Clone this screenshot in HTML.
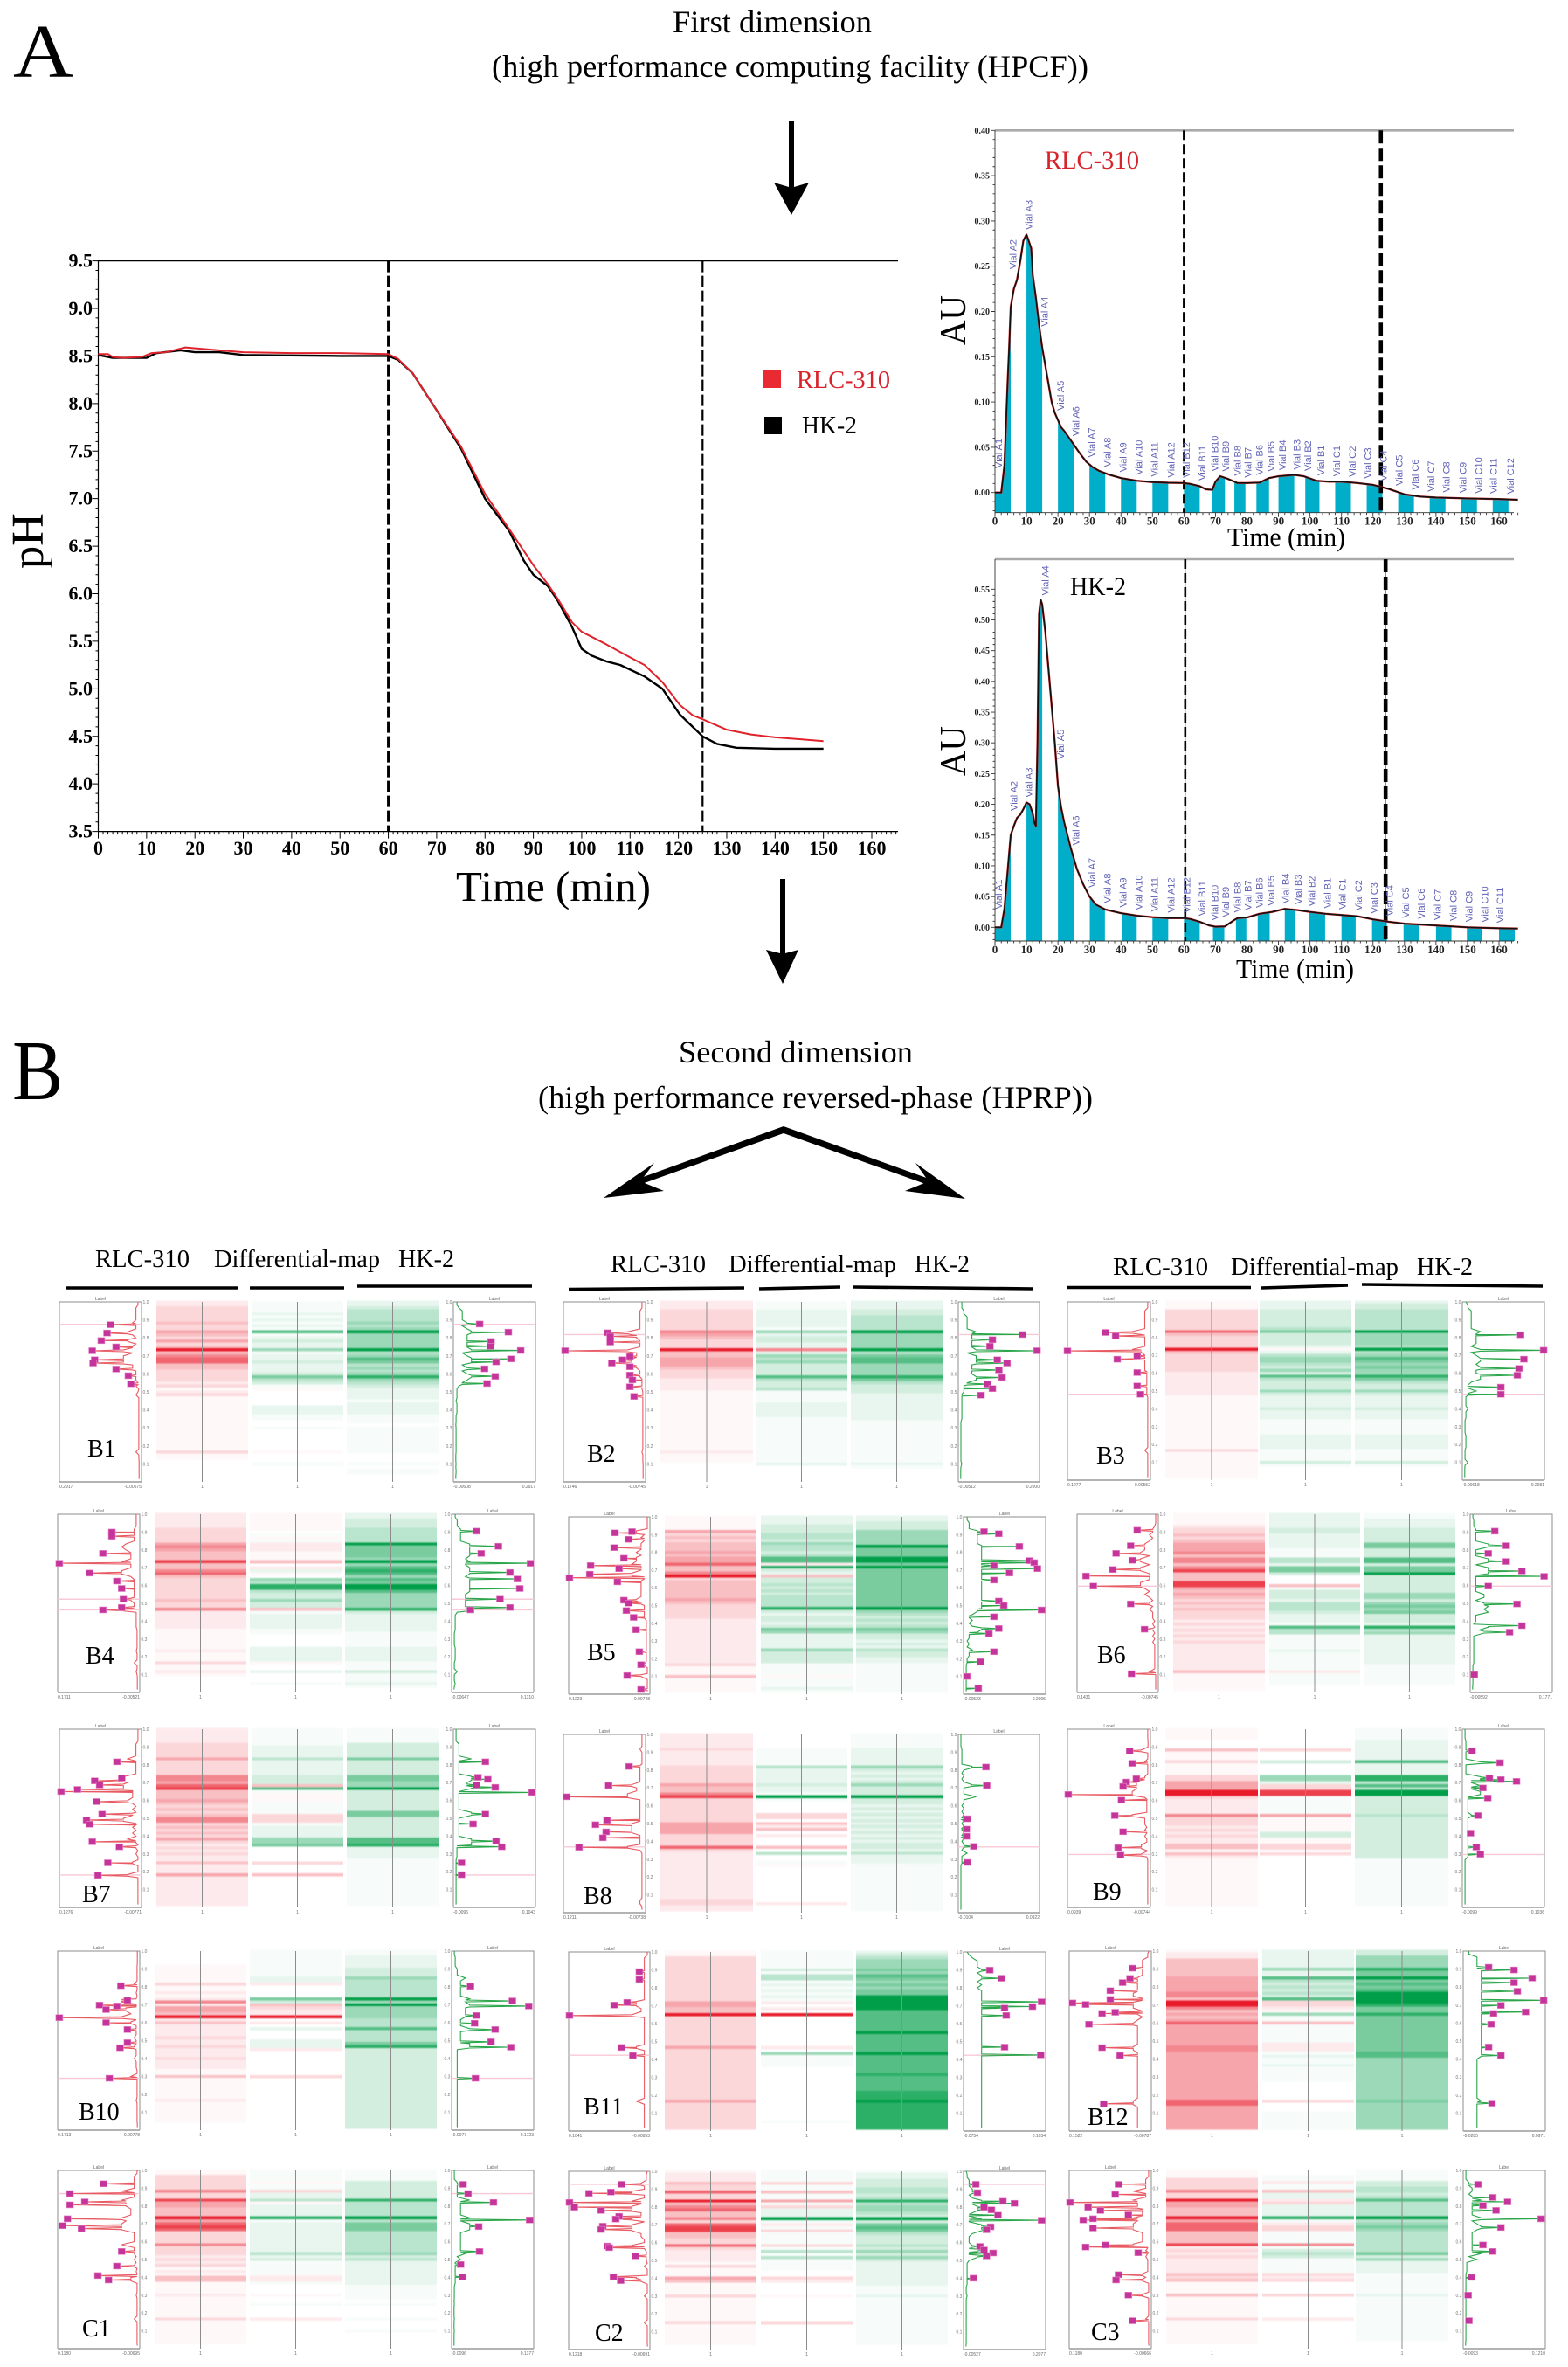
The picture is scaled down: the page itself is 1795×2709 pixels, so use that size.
<!DOCTYPE html>
<html lang="en">
<head>
<meta charset="utf-8">
<title>Two-dimensional chromatography comparison of RLC-310 and HK-2</title>
<style>
html,body{margin:0;padding:0;background:#fff;}
svg{display:block;font-family:"Liberation Serif",serif;}
</style>
</head>
<body>
<svg id="figure" width="1795" height="2709" viewBox="0 0 1795 2709">
<defs>
<filter id="rowSoft" x="-2%" y="-5%" width="104%" height="110%" color-interpolation-filters="sRGB"><feGaussianBlur stdDeviation="0 0.8"/></filter>
</defs>
<rect width="1795" height="2709" fill="#fff"/>
<text x="15" y="88" font-size="87" textLength="69" lengthAdjust="spacingAndGlyphs">A</text>
<text x="770" y="37" font-size="36" textLength="228" lengthAdjust="spacingAndGlyphs">First dimension</text>
<text x="563" y="88" font-size="36" textLength="683" lengthAdjust="spacingAndGlyphs">(high performance computing facility (HPCF))</text>
<text x="14" y="1258" font-size="97" textLength="58" lengthAdjust="spacingAndGlyphs">B</text>
<text x="777" y="1216" font-size="36" textLength="268" lengthAdjust="spacingAndGlyphs">Second dimension</text>
<text x="616" y="1268" font-size="36" textLength="635" lengthAdjust="spacingAndGlyphs">(high performance reversed-phase (HPRP))</text>

<g fill="#000" stroke="none">
<path d="M903 139h6v75l17 -5l-20 37l-20 -37l17 5z"/>
<path d="M893 1006h6v85l15 -4l-18 39l-19 -39l16 4z"/>
<path d="M897 1289L1066 1350L1062 1356L897 1297L732 1356L728 1350z"/>
<path d="M691 1371L749 1331L733 1352L760 1363z"/>
<path d="M1105 1372L1048 1331L1063 1352L1036 1363z"/>
</g>

<g>
<rect x="874" y="424" width="20" height="20" fill="#ea2a33"/>
<text x="912" y="444" font-size="28" fill="#d9232b" textLength="107" lengthAdjust="spacingAndGlyphs">RLC-310</text>
<rect x="875" y="477" width="20" height="20" fill="#000"/>
<text x="918" y="496" font-size="28" textLength="63" lengthAdjust="spacingAndGlyphs">HK-2</text>
</g>
<text x="522" y="1031" font-size="49" textLength="223" lengthAdjust="spacingAndGlyphs">Time (min)</text>
<text transform="translate(49,651) rotate(-90)" font-size="52" textLength="64" lengthAdjust="spacingAndGlyphs">pH</text>

<text x="1196" y="193" font-size="30" fill="#d6242a" textLength="108" lengthAdjust="spacingAndGlyphs">RLC-310</text>
<text transform="translate(1105,395) rotate(-90)" font-size="42" textLength="57" lengthAdjust="spacingAndGlyphs">AU</text>
<text x="1405" y="625" font-size="31" textLength="135" lengthAdjust="spacingAndGlyphs">Time (min)</text>
<text x="1225" y="681" font-size="30" textLength="64" lengthAdjust="spacingAndGlyphs">HK-2</text>
<text transform="translate(1105,888) rotate(-90)" font-size="42" textLength="57" lengthAdjust="spacingAndGlyphs">AU</text>
<text x="1415" y="1119" font-size="31" textLength="135" lengthAdjust="spacingAndGlyphs">Time (min)</text>

<g font-size="28">
<text x="109" y="1450" textLength="108" lengthAdjust="spacingAndGlyphs">RLC-310</text>
<text x="245" y="1450" textLength="190" lengthAdjust="spacingAndGlyphs">Differential-map</text>
<text x="456" y="1450" textLength="64" lengthAdjust="spacingAndGlyphs">HK-2</text>
<path d="M76 1474H272M286 1474H394M409 1472H609" stroke="#000" stroke-width="3.6" fill="none"/>
</g>
<g font-size="28">
<text x="699" y="1456" textLength="109" lengthAdjust="spacingAndGlyphs">RLC-310</text>
<text x="834" y="1456" textLength="192" lengthAdjust="spacingAndGlyphs">Differential-map</text>
<text x="1047" y="1456" textLength="63" lengthAdjust="spacingAndGlyphs">HK-2</text>
<path d="M651 1475.5L852 1474M869 1475L962 1473M977 1473L1183 1475" stroke="#000" stroke-width="3.6" fill="none"/>
</g>
<g font-size="28">
<text x="1274" y="1459" textLength="109" lengthAdjust="spacingAndGlyphs">RLC-310</text>
<text x="1409" y="1459" textLength="192" lengthAdjust="spacingAndGlyphs">Differential-map</text>
<text x="1622" y="1459" textLength="64" lengthAdjust="spacingAndGlyphs">HK-2</text>
<path d="M1222 1473.5H1432M1444 1474L1543 1471M1559 1470L1766 1472" stroke="#000" stroke-width="3.6" fill="none"/>
</g>
</svg>

<script>
// ---------- pH chart data ----------
const phXTicks = [0,10,20,30,40,50,60,70,80,90,100,110,120,130,140,150,160];
const phYTicks = [3.5,4,4.5,5,5.5,6,6.5,7,7.5,8,8.5,9,9.5];
const phCuts = [60,125];
const phTimeRlc = [0,2,3,5,9,11,14,18,25,30,40,50,60,62,65,70,75,80,85,90,93,95,98,100,105,110,113,116.7,120.3,123,125,130,135,140,145,150];
const phRlc = [8.52,8.52,8.49,8.48,8.49,8.53,8.54,8.59,8.56,8.54,8.53,8.53,8.52,8.47,8.32,7.93,7.55,7.05,6.68,6.3,6.1,5.95,5.7,5.6,5.47,5.33,5.25,5.07,4.83,4.72,4.68,4.57,4.52,4.49,4.47,4.45];
const phTimeHk = [0,3,10,12,17,20,25,30,50,60,62,65,70,75,80,85,88,90,93,95,98,100,102,105,108,113,116.7,120.3,125,128,132,140,150];
const phHk = [8.51,8.48,8.48,8.53,8.56,8.54,8.54,8.51,8.5,8.5,8.46,8.32,7.93,7.53,7,6.66,6.35,6.2,6.08,5.93,5.65,5.42,5.35,5.29,5.25,5.13,5,4.73,4.5,4.42,4.38,4.37,4.37];

// ---------- AU chart data ----------
const auXTicks = [0,10,20,30,40,50,60,70,80,90,100,110,120,130,140,150,160];
const auTimeRlc = [0,2,3,3.5,4,4.5,5,6,7,8,9,10,11,11.5,12,13,14,15,16,17,18,19,20,21,22,24,25,27,29,31,33,36,40,45,50,55,60,62,65,67,69,70,71.5,74,77,80,84,87,90,95,98,102,106,110,115,120,125,130,135,140,150,160,166];
const auRlc = [0,0,0.03,0.075,0.12,0.16,0.205,0.225,0.235,0.255,0.278,0.285,0.275,0.27,0.24,0.215,0.185,0.16,0.14,0.12,0.1,0.088,0.08,0.072,0.068,0.058,0.053,0.043,0.034,0.028,0.024,0.02,0.016,0.013,0.0115,0.0108,0.0105,0.0095,0.007,0.0035,0.003,0.012,0.018,0.015,0.0105,0.0105,0.011,0.016,0.018,0.0195,0.018,0.013,0.012,0.012,0.0105,0.0085,0.004,-0.002,-0.0045,-0.0055,-0.0065,-0.0072,-0.008];
const auTimeHk = [0,2,3,4,5,6,7,8,9,10,11,12,12.5,13,13.5,14,14.5,15,16,17,18,19,20,21,22,24,26,28,30,32,35,40,45,50,55,60,62,65,68,70,73,76,77,80,84,88,92,96,100,105,110,115,120,125,130,135,140,150,160,166];
const auHk = [0,0,0.03,0.09,0.15,0.165,0.178,0.183,0.192,0.203,0.2,0.185,0.17,0.165,0.3,0.51,0.533,0.525,0.48,0.42,0.36,0.3,0.23,0.195,0.17,0.13,0.095,0.07,0.05,0.037,0.029,0.023,0.019,0.0165,0.015,0.015,0.0135,0.009,0.003,0.001,0.0015,0.012,0.015,0.016,0.022,0.025,0.03,0.028,0.025,0.022,0.02,0.018,0.013,0.009,0.006,0.0045,0.003,0,-0.0015,-0.002];
const rlcFractionStart = [0,10,20,30,40,50,60,69,76,83,90,98.5,108,118,128,138,148,158];
const rlcFractionEnd = [5,15,25,35,45,55,65,73,79.5,87,95,103,113,123,133,143,153,163];
const hkFractionStart = [0,10,20,30.1,40.2,50,60,69.2,76.5,83.4,92,99.8,110,119.7,129.7,140,149.8,160];
const hkFractionEnd = [5,15,25,34.9,45,55,65,72.8,79.8,87.2,95.4,104.8,114.5,124.4,134.6,144.9,154.6,165];
const vialNames = ['A1','A2','A3','A4','A5','A6','A7','A8','A9','A10','A11','A12','B12','B11','B10','B9','B8','B7','B6','B5','B4','B3','B2','B1','C1','C2','C3','C4','C5','C6','C7','C8','C9','C10','C11','C12'];
const rlcVialTimes = [1.2,5.8,10.8,15.8,20.9,25.8,30.8,35.8,40.8,45.8,50.7,56,60.9,65.8,69.9,73.4,77.1,80.4,84,87.7,91.3,95.9,99.4,103.6,108.6,113.5,118.4,123.4,128.4,133.5,138.5,143.4,148.6,153.6,158.4,163.7];
const hkVialTimes = [1.2,6.1,10.8,16.1,21,25.8,30.9,35.8,40.8,45.8,50.7,56,61,65.8,69.9,73.4,77.1,80.4,84,87.7,92.3,96.3,100.6,105.6,110.4,115.5,120.5,125.4,130.5,135.5,140.6,145.6,150.6,155.5,160.4];
const rlcYTicks = ['0.00','0.05','0.10','0.15','0.20','0.25','0.30','0.35','0.40'];
const hkYTicks = ['0.00','0.05','0.10','0.15','0.20','0.25','0.30','0.35','0.40','0.45','0.50','0.55'];

// ---------- Heatmap row intensities (60 rows; missing rows are zero) ----------
const redB1 = [2,2,3,3,3,3,3,4,3,3,5,4,3,5,3,4,9,4,6,7,7,4,4,3,3,3,3,2,3,1,2,3,1,1,1,1,1,1,1,1,1,1,1,1,1,1,1,1,1,1,3,1,1];
const diffB1 = [1,1,1,1,2,1,2,1,2,1,7,1,2,3,2,2,5,1,2,2,3,2,2,2,3,6,4,3,1,-1,0,0,0,0,0,2,2,2,1,1,0,0,1,0,0,0,0,0,0,0,-1,0,0,0,1];
const greenB1 = [2,2,3,4,4,4,4,5,4,5,9,5,5,5,5,5,9,4,5,7,6,4,5,4,5,8,5,4,3,2,2,2,2,1,2,2,2,2,1,1,1,0,1,1,1,1,1,1,1,1,1,0,0,0,1,0,1,1];
const redB2 = [2,2,2,3,3,3,3,3,3,3,6,5,4,3,3,3,9,4,4,5,5,5,4,3,3,3,2,2,2,2,1,1,1,1,1,1,1,1,1,1,1,1,1,1,1,1,1,1,1,1,2,1,1,1];
const diffB2 = [1,1,1,2,2,2,2,2,2,1,5,2,3,3,2,2,-6,2,5,4,5,3,3,3,3,7,4,3,3,4,1,1,1,1,2,2,2,2,2,1,1,1,1,1,1,1,1,1,1,1,1,1,1,1,2];
const greenB2 = [2,2,2,3,3,4,4,4,4,4,9,5,5,5,5,5,9,4,6,7,7,5,5,5,5,8,6,4,3,3,3,2,2,2,2,2,2,2,2,2,1,1,1,1,1,1,1,1,1,1,1,1,1,1,2,1];
const redB3 = [1,1,1,3,3,3,3,3,3,3,7,4,3,3,3,3,9,4,3,3,3,3,3,3,2,2,2,2,2,2,2,2,1,1,1,1,1,1,1,1,1,1,1,1,1,1,1,1,1,1,3,1,1,1,1,1,1,1,1,1];
const diffB3 = [2,2,2,3,3,3,3,3,3,4,6,3,3,3,3,2,-1,2,4,5,5,4,3,5,3,7,4,3,3,3,5,3,2,2,2,2,3,2,2,2,1,1,1,1,1,2,2,2,2,2,1,1,1,1,3,1];
const greenB3 = [2,3,3,4,4,4,4,4,4,4,9,5,5,5,5,4,9,4,5,7,6,5,6,5,5,8,6,4,3,3,5,3,2,2,2,2,3,2,2,2,1,1,1,1,1,2,2,2,2,2,1,1,1,1,3,1];
const redB4 = [2,2,2,2,2,3,3,3,3,3,5,6,5,4,4,4,8,4,4,6,7,4,3,3,3,3,3,3,3,4,3,3,6,2,2,2,2,2,2,1,1,1,1,1,1,1,2,1,1,1,3,1,1,2,1];
const diffB4 = [-1,-1,-1,-1,-1,-1,0,1,-1,1,-2,-2,-2,-1,-1,-1,-4,0,-2,2,-1,0,5,4,8,8,4,3,3,5,3,3,-4,1,2,2,2,2,2,1,1,0,0,0,0,2,2,2,2,2,-1,0,0,2,0,0,0,1];
const greenB4 = [2,2,3,3,3,4,4,4,4,4,9,6,6,6,6,5,9,5,7,8,7,5,7,6,9,9,7,5,5,5,5,5,8,3,2,2,2,2,2,2,1,1,1,1,1,2,2,2,2,2,1,1,1,3,1,1,1,2,1];
const redB5 = [1,1,1,1,1,5,3,4,3,4,4,4,5,4,5,5,7,4,4,6,9,3,4,4,4,4,4,4,5,4,3,3,3,3,3,2,2,2,2,2,2,2,2,2,2,2,2,2,2,2,3,1,1,1,4,1,1,1,1,1];
const diffB5 = [2,2,2,3,3,3,4,4,3,5,4,4,3,4,7,7,-2,8,3,2,-4,3,3,4,3,4,3,4,4,4,4,8,3,2,3,3,2,3,6,5,2,2,2,2,2,5,3,3,3,3,1,1,1,1,-1,1,1,1,2,1];
const greenB5 = [2,2,3,3,3,5,5,5,5,5,9,6,6,6,9,9,6,9,6,6,6,6,6,6,6,6,6,6,6,6,6,9,5,4,3,4,3,4,6,5,3,3,2,3,2,4,3,3,2,2,1,1,1,1,1,1,1,1,1,1];
const redB6 = [1,1,1,1,2,3,3,4,3,4,5,5,5,6,4,6,6,4,6,8,4,4,4,8,8,5,4,5,4,3,4,3,4,3,3,3,2,3,2,3,2,3,2,3,2,2,2,2,2,2,2,2,2,4,1,1,1,1,1,1];
const diffB6 = [2,2,2,2,2,3,3,2,2,2,2,2,1,1,1,4,4,2,6,6,3,0,0,0,-4,1,3,3,3,2,4,4,4,3,2,2,2,1,7,4,4,1,1,1,1,1,2,1,1,1,1,1,1,-2,1,1,1,1];
const greenB6 = [1,1,2,2,2,3,3,3,3,3,6,6,3,3,3,7,7,3,6,6,9,3,3,3,3,3,3,5,5,3,5,6,5,6,3,3,3,2,8,4,5,2,2,2,2,2,2,2,2,2,2,1,1,1,1,1,1,1];
const redB7 = [2,2,2,2,2,3,3,3,3,3,5,3,3,3,3,3,6,6,5,7,8,4,4,4,5,4,3,4,3,4,6,6,3,4,3,4,3,5,3,2,3,2,3,2,2,4,2,2,2,5,2,2,2,2,2,2,2,2,2,2];
const diffB7 = [1,1,1,1,1,1,2,2,2,2,4,2,2,2,2,2,3,3,3,-4,7,1,-1,-1,-1,1,1,1,1,-3,-3,-3,1,2,2,2,2,5,5,6,0,0,0,0,0,-3,0,0,0,-4];
const greenB7 = [1,1,1,1,1,3,3,3,3,3,6,3,3,3,3,3,6,6,5,5,9,3,3,3,3,3,3,3,6,6,3,3,3,3,3,3,3,7,7,8,2,2,2,2,1,1,1,1,1,1,1,1,1,1,1,1,1,1,1,1];
const redB8 = [2,2,2,2,2,3,2,2,2,2,2,3,3,3,3,3,3,5,4,4,6,8,3,3,3,3,3,3,3,3,5,5,5,5,3,3,3,3,7,3,2,2,2,2,2,2,2,2,2,2,2,2,2,2,2,2,3,3,2,2];
const diffB8 = [0,0,0,0,0,1,1,1,1,1,1,4,2,2,2,2,2,3,2,2,1,9,1,0,0,0,0,-3,-3,0,-4,-2,-4,0,-2,0,0,0,-4,0,4,0,0,1,-1,0,0,0,0,0,0,0,0,0,0,0,0,-2];
const greenB8 = [1,1,1,1,1,2,2,2,2,2,2,5,3,2,3,2,3,5,3,3,3,9,3,3,2,3,2,3,2,3,2,3,2,3,2,3,2,3,3,2,4,2,2,2,1,1,1,1,1,1,1,1,1,1,1,1,1,1,1,1];
const redB9 = [1,1,1,1,0,0,0,4,1,1,1,3,1,1,1,1,3,3,5,5,5,9,9,3,2,2,2,2,2,6,3,3,3,2,3,2,3,2,2,4,4,1,4,2,1,1,1,1,1,1,1,1,1,1,1,1,1,1,1,1];
const diffB9 = [0,0,0,0,0,0,0,-3,0,0,0,3,0,0,0,0,5,5,2,-3,-3,-8,-8,1,1,1,1,1,1,-5,-1,-1,-1,-1,-1,3,3,-1,-1,-3,-3,0,-3];
const greenB9 = [1,1,1,1,2,2,2,2,2,2,2,7,2,2,2,2,8,8,4,7,4,9,9,3,3,3,3,3,3,4,3,3,3,3,3,3,3,3,3,3,3,3,3,3,1,1,1,1,1,1,1,1,1,1,1,1,1,1,1,1];
const redB10 = [0,0,0,0,0,1,1,1,1,1,1,3,1,1,2,1,2,6,2,5,5,4,9,2,4,2,2,2,2,3,2,2,3,2,2,2,3,2,2,2,1,1,4,1,1,1,1,1,1,1,2,1,1,1,1,1,1,1];
const diffB10 = [1,1,1,1,1,1,1,1,1,2,2,-2,0,0,0,0,6,3,-4,-3,-2,-2,-9,0,-2,0,2,0,0,0,2,2,2,-2,0,0,0,0,0,0,0,0,-3];
const greenB10 = [1,1,2,2,2,2,3,3,3,5,4,4,4,4,4,4,9,5,9,5,5,5,5,4,4,4,7,4,4,4,4,6,8,3,3,3,3,3,3,3,3,3,3,3,3,3,3,3,3,3,3,3,3,3,3,3,3,3,3,3];
const redB11 = [1,1,3,3,3,3,3,3,3,3,3,3,3,3,3,3,3,5,5,4,4,9,3,3,3,3,3,3,3,3,3,3,5,3,3,3,3,3,3,3,3,3,3,3,3,3,3,3,3,3,5,3,3,3,3,3,3,3,3,3];
const diffB11 = [1,1,1,1,1,1,3,1,4,4,1,2,1,2,1,2,1,-2,0,-2,0,-9,0,0,0,0,0,0,0,0,0,0,-2,0,5,1,1,1,1,0,0,0,0,0,0,0,0,0,0,0,0,0,0,0,0,0,0,1];
const greenB11 = [2,3,4,5,5,5,6,5,7,6,5,6,5,6,6,9,9,9,9,9,7,7,7,7,7,7,7,9,7,7,7,7,7,7,9,7,7,7,7,7,7,8,7,7,7,7,7,8,8,8,9,8,8,8,8,8,8,8,8,8];
const redB12 = [1,2,2,4,4,4,4,4,4,5,5,5,5,5,6,6,4,9,9,6,4,5,4,5,7,5,5,5,5,5,5,5,6,6,5,5,5,5,5,5,5,5,5,5,5,5,5,5,5,5,7,7,5,5,5,5,5,5,5,5];
const diffB12 = [2,2,2,2,2,2,5,2,2,7,4,3,4,3,4,3,7,-3,-3,-2,-1,5,1,1,-4,1,1,1,1,1,1,-2,-2,-2,1,2,1,1,2,1,1,1,1,1,0,0,0,0,0,0,-3,0,0,0,1,1,1,1,1,1];
const greenB12 = [3,3,5,5,5,5,8,6,6,9,6,7,6,7,9,9,9,9,8,6,6,8,6,6,6,6,6,6,6,6,6,6,6,6,7,7,5,5,5,5,5,5,5,5,5,5,5,5,5,5,6,5,5,5,5,5,5,5,5,5];
const redC1 = [1,1,3,3,3,3,3,6,3,3,8,5,5,4,4,4,9,5,7,8,7,3,3,3,3,6,3,3,3,2,3,2,3,1,2,1,4,4,1,1,1,1,2,1,1,1,1,1,1,1,3,1,1,1,1,1,1,1,1];
const diffC1 = [1,1,1,1,-1,1,1,-3,2,2,4,-1,2,2,2,2,8,1,2,2,2,2,2,2,2,2,2,2,4,2,3,1,1,1,1,1,-2,-2,1,0,0,0,-1,0,0,1,0,0,0,0,-2];
const greenC1 = [1,1,1,1,3,3,3,3,3,3,8,4,4,4,4,4,9,4,6,6,6,4,4,4,4,4,4,4,5,3,4,2,2,2,2,2,2,2,2,1,1,1,1,1,0,1,0,0,0,0,1,0,0,0,1];
const redC2 = [1,2,2,2,4,3,3,7,3,3,9,4,6,7,4,4,6,3,7,8,8,4,4,3,3,7,3,2,2,2,2,1,3,1,1,1,5,4,1,1,1,1,3,1,1,1,1,1,1,1,1,3,1,1,1,1,1,1,1];
const diffC2 = [1,1,1,1,-3,1,1,-4,1,1,-5,1,-3,2,2,2,9,1,-2,1,-3,1,1,1,1,-3,1,4,1,4,1,1,1,1,0,0,-3,-2,0,0,0,0,-1,0,0,0,0,0,0,0,0,-3];
const greenC2 = [1,2,2,3,3,3,4,4,3,4,8,4,5,5,4,3,9,3,6,7,6,4,3,3,3,4,3,5,3,5,3,2,2,2,2,2,2,2,2,1,1,1,2,1,1,1,1,1,1,1,1,1,1,1,1,1,1,1,1];
const redC3 = [1,1,1,3,3,3,3,6,3,3,9,5,5,4,4,4,9,5,7,7,7,4,4,4,4,8,2,3,2,3,2,2,2,2,2,4,3,4,1,1,1,1,4,1,1,1,1,1,1,1,3,1,1,1,1,1,1,1,1];
const diffC3 = [0,0,1,1,-2,1,1,-4,2,2,-2,-3,2,2,2,2,8,1,-2,-3,-3,1,1,1,1,-6,1,3,4,3,1,1,1,1,1,-3,-2,-3,0,0,0,0,-3,0,0,0,0,0,0,0,-2];
const greenC3 = [1,1,1,1,3,3,4,4,3,4,7,4,4,4,4,4,9,4,5,6,5,4,4,4,4,4,4,4,6,3,5,2,2,2,2,1,1,1,1,1,1,1,2,1,1,1,1,1,1,1,1,1,1,1,1,1,1,1];

// ---------- Trace peak markers: [row, relative signal] ----------
const leftPeaksB1 = [[7.6,.38],[10.4,.42],[12.9,.49],[15,.31],[16.3,.6],[19.3,.57],[20.4,.59],[22.4,.31],[24.6,.16],[27.3,.13]];
const rightPeaksB1 = [[7.4,.32],[10.1,.67],[13.2,.46],[14.8,.45],[16.2,.82],[19,.7],[20,.52],[22.3,.38],[24.8,.51],[27.2,.41]];
const leftPeaksB2 = [[10.3,.46],[11.5,.43],[13.4,.43],[16.3,.98],[18.2,.19],[19.3,.28],[20.4,.41],[21.6,.19],[24.4,.19],[26,.16],[28.3,.19],[31.5,.14]];
const rightPeaksB2 = [[10.9,.79],[12.6,.42],[14.8,.39],[16.3,.97],[19.3,.48],[20.4,.6],[22.7,.5],[25.2,.54],[27.4,.36],[28.9,.42],[31.1,.28]];
const leftPeaksB3 = [[10.3,.54],[11.5,.42],[16.5,1],[18.2,.16],[19.3,.4],[23.8,.16],[28.3,.16],[31.1,.12]];
const rightPeaksB3 = [[11.1,.71],[16.3,.99],[19.3,.75],[22.4,.69],[24.7,.67],[28.7,.47],[31.1,.47]];
const leftPeaksB4 = [[6,.34],[7.4,.34],[13.2,.45],[16.5,.98],[19.8,.61],[22.5,.28],[25,.22],[28.6,.2],[31.4,.22],[32.2,.45]];
const rightPeaksB4 = [[5.7,.3],[10.8,.57],[13.2,.36],[16.5,.96],[19.6,.71],[21.8,.8],[25,.83],[28.6,.59],[31.4,.71],[32.2,.23]];
const leftPeaksB5 = [[5,.22],[5.4,.43],[7.6,.26],[10.4,.44],[14,.32],[16.5,.73],[17.5,.38],[19.4,.74],[20.6,.99],[22,.4],[28.2,.32],[29.2,.26],[31.7,.29],[34,.2],[38.2,.17],[45.6,.13],[50,.11],[53.7,.28],[58.4,.11]];
const rightPeaksB5 = [[5,.25],[5.7,.43],[10,.68],[14.8,.8],[15.5,.86],[16.5,.37],[17.5,.9],[19,.56],[21.4,.37],[28.5,.43],[30,.49],[31.5,.95],[33.8,.37],[37.8,.43],[39.5,.31],[45.6,.37],[49,.21],[54,.04],[58,.18]];
const leftPeaksB6 = [[5.4,.26],[10.6,.34],[13.2,.52],[15.5,.32],[18.6,.56],[20.8,.89],[24.2,.8],[30.2,.34],[38.7,.17],[53.7,.33]];
const rightPeaksB6 = [[5.7,.3],[10.6,.44],[13.2,.22],[15.9,.44],[19.1,.63],[20.9,.9],[24.2,.22],[30.2,.57],[37.5,.63],[39.7,.48],[54,.05]];
const leftPeaksB7 = [[11,.3],[16.4,.24],[17.4,.57],[18.8,.51],[20.3,.78],[21,.98],[24.4,.55],[28.6,.48],[30.6,.67],[32,.63],[37.9,.6],[39.6,.27],[45,.41],[49.2,.53]];
const rightPeaksB7 = [[11,.39],[16.2,.3],[16.9,.42],[18.8,.28],[19.6,.51],[21.3,.96],[28.6,.39],[31.9,.24],[37.7,.52],[39.6,.59],[45,.1],[49,.1]];
const leftPeaksB8 = [[10.8,.2],[17.2,.45],[21,.96],[28.9,.47],[30.4,.61],[32.8,.48],[34.8,.52],[38,.81]];
const rightPeaksB8 = [[11,.34],[17.2,.35],[28.4,.11],[31.9,.1],[34.3,.1],[37.7,.19],[43.1,.11]];
const leftPeaksB9 = [[7.3,.25],[11.5,.22],[16.7,.17],[17.8,.29],[19.3,.33],[22,.99],[23.9,.35],[29.1,.43],[34.5,.33],[39.9,.39],[42.4,.36]];
const rightPeaksB9 = [[7.3,.12],[11.3,.46],[16.4,.33],[17,.47],[17.6,.66],[19.8,.25],[23.2,.31],[29.1,.19],[35,.1],[39.7,.17],[42.1,.22]];
const leftPeaksB10 = [[11.6,.23],[16.5,.15],[18.1,.49],[18.4,.28],[19.6,.41],[22.3,.98],[24,.41],[26.3,.15],[30.7,.15],[32.4,.24],[42.6,.37]];
const rightPeaksB10 = [[11.8,.23],[16.7,.74],[18.4,.94],[21.6,.3],[24.2,.28],[26.3,.53],[30.4,.48],[32.2,.72],[42.6,.29]];
const leftPeaksB11 = [[6.6,.13],[9.2,.13],[16.9,.28],[17.8,.44],[21.3,.99],[32,.35],[34.7,.21]];
const rightPeaksB11 = [[6.1,.32],[8.8,.46],[16.7,.95],[18.3,.84],[18.8,.5],[21.3,.52],[31.9,.5],[34.5,.94]];
const leftPeaksB12 = [[5.7,.23],[9.1,.26],[10.5,.35],[13.2,.5],[16.1,.5],[17.3,.96],[17.8,.8],[20.4,.44],[20.8,.6],[24.4,.76],[32.2,.6],[34.8,.38],[50.9,.58]];
const rightPeaksB12 = [[5.4,.31],[6.3,.62],[9,.84],[10.5,.62],[13.4,.66],[16.4,.98],[18.1,.46],[20.3,.76],[20.8,.37],[24.4,.34],[32,.31],[34.8,.46],[50.7,.35]];
const leftPeaksC1 = [[4.5,.44],[7.8,.85],[10.6,.67],[11.6,.85],[16.3,.88],[18.6,.94],[19.6,.71],[27.3,.22],[32.2,.28],[35.4,.51],[36.9,.38]];
const rightPeaksC1 = [[4.7,.14],[7.8,.2],[10.8,.51],[16.7,.95],[18.9,.33],[27.3,.34],[31.7,.11],[35.9,.13]];
const leftPeaksC2 = [[4.4,.35],[7,.48],[7.4,.75],[10.5,.99],[12.1,.93],[13.2,.6],[15.2,.38],[16.1,.42],[18.5,.58],[19.6,.6],[25.2,.52],[25.7,.5],[28.5,.18],[35.5,.45],[36.8,.36]];
const rightPeaksC2 = [[4.4,.15],[7.2,.17],[10.1,.48],[10.8,.62],[12.1,.25],[13,.34],[14.8,.42],[16.5,.95],[18.7,.33],[19.7,.28],[25.3,.2],[26.5,.25],[27.5,.36],[28.5,.28],[36,.12]];
const leftPeaksC3 = [[4.7,.4],[8.1,.44],[10.8,.99],[12.4,.77],[13.5,.62],[15,.28],[16.3,.71],[16.7,.83],[19.4,.71],[25.1,.56],[25.8,.8],[27.7,.16],[35.1,.4],[36.9,.43],[42,.28],[50.6,.23]];
const rightPeaksC3 = [[4.7,.18],[9.1,.36],[10.6,.54],[11.8,.24],[13.5,.4],[16.3,.95],[19.2,.46],[25.1,.24],[27.3,.36],[36,.1],[42,.06],[50.6,.07]];

const panelIds = ['B1','B2','B3','B4','B5','B6','B7','B8','B9','B10','B11','B12','C1','C2','C3'];
const panelSeries = {
  B1:[redB1,diffB1,greenB1,leftPeaksB1,rightPeaksB1], B2:[redB2,diffB2,greenB2,leftPeaksB2,rightPeaksB2], B3:[redB3,diffB3,greenB3,leftPeaksB3,rightPeaksB3],
  B4:[redB4,diffB4,greenB4,leftPeaksB4,rightPeaksB4], B5:[redB5,diffB5,greenB5,leftPeaksB5,rightPeaksB5], B6:[redB6,diffB6,greenB6,leftPeaksB6,rightPeaksB6],
  B7:[redB7,diffB7,greenB7,leftPeaksB7,rightPeaksB7], B8:[redB8,diffB8,greenB8,leftPeaksB8,rightPeaksB8], B9:[redB9,diffB9,greenB9,leftPeaksB9,rightPeaksB9],
  B10:[redB10,diffB10,greenB10,leftPeaksB10,rightPeaksB10], B11:[redB11,diffB11,greenB11,leftPeaksB11,rightPeaksB11], B12:[redB12,diffB12,greenB12,leftPeaksB12,rightPeaksB12],
  C1:[redC1,diffC1,greenC1,leftPeaksC1,rightPeaksC1], C2:[redC2,diffC2,greenC2,leftPeaksC2,rightPeaksC2], C3:[redC3,diffC3,greenC3,leftPeaksC3,rightPeaksC3]
};
const highlightRows = {B1:[7.5],B2:[10.9],B3:[31.1],B4:[28.6,32.2],B5:[],B6:[24.2],B7:[49.1],B8:[37.9],B9:[42.2],B10:[42.6],B11:[34.6],B12:[],C1:[7.8],C2:[4.4],C3:[]};
const rowTickLabels = ['1.0','0.9','0.8','0.7','0.6','0.5','0.4','0.3','0.2','0.1'];
const scaleLabels = {B1:['0.2917','-0.00575','-0.00608','0.2917'],B2:['0.1746','-0.00745','-0.00512','0.2000'],B3:['0.1277','-0.00552','-0.00618','0.2081'],B4:['0.1711','-0.00521','-0.00647','0.1310'],B5:['0.1223','-0.00748','-0.00523','0.2095'],B6:['0.1431','-0.00745','-0.00592','0.1771'],B7:['0.1276','-0.00771','-0.0096','0.1043'],B8:['0.1211','-0.00738','-0.0104','0.0922'],B9:['0.0939','-0.00744','-0.0099','0.1036'],B10:['0.1713','-0.00778','-0.0077','0.1723'],B11:['0.1041','-0.00853','-0.0754','0.1034'],B12:['0.1522','-0.00787','-0.0285','0.0971'],C1:['0.1180','-0.00695','-0.0096','0.1377'],C2:['0.1218','-0.00691','-0.00527','0.2077'],C3:['0.1180','-0.00666','-0.0093','0.1210']};

// ---------- Layout (not data): pixel frame of every panel ----------
const frameA = [[68,162],[179,284],[288,393],[397,502],[519,613]];
const frameA2 = [[66,160],[177,282],[286,391],[395,500],[517,611]];
const frameB = [[645,739],[756,862],[865,970],[974,1079],[1097,1190]];
const frameB2 = [[651,744],[761,866],[871,976],[980,1085],[1103,1197]];
const frameC = [[1222,1317],[1334,1440],[1442,1547],[1551,1658],[1674,1768]];
const frameC2 = [[1233,1326],[1343,1448],[1453,1557],[1561,1666],[1683,1777]];
const frameC3 = [[1224,1318],[1335,1440],[1445,1550],[1552,1658],[1675,1769]];
const panelFrames = {
  B1:{f:frameA,y:[1490,1696],t:[100,1667]},B2:{f:frameB,y:[1490,1696],t:[672,1673]},B3:{f:frameC,y:[1490,1694],t:[1255,1675]},
  B4:{f:frameA2,y:[1733,1937],t:[98,1904]},B5:{f:frameB2,y:[1736,1939],t:[672,1900]},B6:{f:frameC2,y:[1733,1937],t:[1256,1903]},
  B7:{f:frameA,y:[1979,2183],t:[94,2177]},B8:{f:frameB,y:[1985,2189],t:[668,2179]},B9:{f:frameC,y:[1979,2183],t:[1251,2174]},
  B10:{f:frameA2,y:[2233,2438],t:[90,2426]},B11:{f:frameB2,y:[2234,2439],t:[668,2420]},B12:{f:frameC3,y:[2233,2439],t:[1245,2432]},
  C1:{f:frameA2,y:[2484,2688],t:[94,2674]},C2:{f:frameB2,y:[2485,2689],t:[681,2679]},C3:{f:frameC3,y:[2484,2688],t:[1249,2678]}
};

const svg = document.getElementById('figure');
function mk(tag, attrs, parent, txt) {
  const e = document.createElementNS(svg.namespaceURI, tag);
  for (const k in attrs) e.setAttribute(k, attrs[k]);
  if (txt !== undefined) e.textContent = txt;
  parent.appendChild(e);
  return e;
}
function linear(d0, d1, r0, r1) { return v => r0 + (v - d0) * (r1 - r0) / (d1 - d0); }
function interp(ts, vs, t) {
  if (t <= ts[0]) return vs[0];
  for (let i = 1; i < ts.length; i++) {
    if (t <= ts[i]) return vs[i-1] + (vs[i]-vs[i-1]) * (t-ts[i-1]) / (ts[i]-ts[i-1]);
  }
  return vs[vs.length-1];
}

// ---------- pH chart ----------
(function drawPh() {
  const x = linear(0, 160, 112.5, 998);
  const y = linear(3.5, 9.5, 951.6, 298.6);
  const xEnd = 1028;
  const g = mk('g', {}, svg);
  
  
  let minor = '';
  for (let m = 0; m <= 165; m++) { const h = m % 10 === 0 ? 8 : 3.5; minor += `M${x(m)} ${y(3.5)}v${h}`; }
  for (let k = 35; k <= 95; k++) { const h = k % 5 === 0 ? 7 : 3; minor += `M${x(0)} ${y(k/10)}h${-h}`; }
  const t = mk('path', {d: minor, stroke:'#000', 'stroke-width':1, fill:'none'}, g);
  
  
  const frame = mk('path', {d:`M${x(0)} ${y(3.5)}V${y(9.5)}H${xEnd}M${x(0)} ${y(3.5)}H${xEnd}`, stroke:'#000','stroke-width':1.2, fill:'none'}, g);
  
  
  phXTicks.forEach(v => {
    const l = mk('text', {x:x(v), y:978, 'text-anchor':'middle','font-size':22,'font-weight':'bold'}, g, v);
    
    
  });
  phYTicks.forEach(v => {
    const l = mk('text', {x:106, y:y(v)+7, 'text-anchor':'end','font-size':22,'font-weight':'bold'}, g, v.toFixed(1));
    
    
  });
  phCuts.forEach(v => {
    const l = mk('line', {x1:x(v), x2:x(v), y1:y(9.5), y2:y(3.5), stroke:'#000','stroke-width':v===60?3:2.2,'stroke-dasharray':'13 4'}, g);
    
    
  });
  const hk = mk('polyline', {points: phTimeHk.map((t,i)=>`${x(t)},${y(phHk[i])}`).join(' '), fill:'none', stroke:'#000','stroke-width':2.4,'stroke-linejoin':'round'}, g);
  
  
  const rlc = mk('polyline', {points: phTimeRlc.map((t,i)=>`${x(t)},${y(phRlc[i])}`).join(' '), fill:'none', stroke:'#e0232b','stroke-width':2,'stroke-linejoin':'round'}, g);
  
  
})();

// ---------- AU charts ----------
function drawAu(name, o) {
  const x = linear(0, 160, 1139, 1716);
  const y = linear(0, o.unitMax, o.y0, o.yMax);
  const g = mk('g', {}, svg);
  
  
  const right = 1733;
  o.starts.forEach((a, i) => {
    const b = o.ends[i];
    const pts = [[a, o.bottom], [a, y(interp(o.t, o.v, a))]];
    o.t.forEach((tt, j) => { if (tt > a && tt < b) pts.push([tt, y(o.v[j])]); });
    pts.push([b, y(interp(o.t, o.v, b))], [b, o.bottom]);
    const p = mk('polygon', {points: pts.map(q => `${x(q[0])},${q[1]}`).join(' '), fill:'#00aec9'}, g);
    
    
  });
  const top = mk('line', {x1:1139, x2:right, y1:o.top, y2:o.top, stroke:'#a9a9a9','stroke-width':2.6}, g);
  
  
  let ticks = `M1139 ${o.top}V${o.bottom}H${right}`;
  for (let m = 0; m <= 166; m += 2) ticks += `M${x(m)} ${o.bottom}v${m % 10 === 0 ? 5 : 2.5}`;
  for (let u = -2; u <= o.unitMax * 100 + 1e-6; u += 1) {
    const yy = y(u / 100);
    if (yy < o.bottom) ticks += `M1139 ${yy}h${u % 5 === 0 ? -5 : -2.5}`;
  }
  const tk = mk('path', {d:ticks, stroke:'#333','stroke-width':0.9, fill:'none'}, g);
  
  
  o.yLabels.forEach(s => {
    const l = mk('text', {x:1133, y:y(parseFloat(s))+3.5, 'text-anchor':'end','font-size':10,'font-weight':'bold', fill:'#222'}, g, s);
    
    
  });
  auXTicks.forEach(v => {
    const l = mk('text', {x:x(v), y:o.bottom+14, 'text-anchor':'middle','font-size':13,'font-weight':'bold', fill:'#222'}, g, v);
    
    
  });
  o.cuts.forEach(c => {
    if (o.thin) {
      const th = mk('line', {x1:x(c[0]), x2:x(c[0]), y1:o.top, y2:o.bottom, stroke:'#555','stroke-width':1}, g);
      
      
    }
    const l = mk('line', {x1:x(c[0]), x2:x(c[0]), y1:o.top, y2:o.bottom, stroke:'#000','stroke-width':c[1],'stroke-dasharray':c[1]>3.5?'15 5':'11 5'}, g);
    
    
  });
  o.vials.forEach((t, i) => {
    let peak = -1;
    for (let d = -1.5; d <= 1.5; d += 0.25) peak = Math.max(peak, interp(o.t, o.v, t + d));
    const px = x(t) + 3.5, py = y(peak) - 6;
    const l = mk('text', {transform:`translate(${px},${py}) rotate(-90)`, 'font-size':11, fill:'#6163b6', style:'font-family:"Liberation Sans",sans-serif'}, g, 'Vial ' + vialNames[i]);
    
    
  });
  const pts = o.t.map((t,i)=>`${x(t)},${y(o.v[i])}`).join(' ');
  const under = mk('polyline', {points: pts, fill:'none', stroke:'#e33','stroke-width':2.4,'stroke-linejoin':'round'}, g);
  
  
  const line = mk('polyline', {points: pts, fill:'none', stroke:'#111','stroke-width':1.7,'stroke-linejoin':'round'}, g);
  
  
}
drawAu('au-rlc', {t:auTimeRlc, v:auRlc, starts:rlcFractionStart, ends:rlcFractionEnd, vials:rlcVialTimes, yLabels:rlcYTicks, y0:563.7, yMax:149.3, unitMax:0.4, top:149.3, bottom:586.7, cuts:[[60,2.6],[122.5,4.6]], thin:false});
drawAu('au-hk', {t:auTimeHk, v:auHk, starts:hkFractionStart, ends:hkFractionEnd, vials:hkVialTimes, yLabels:hkYTicks, y0:1061.3, yMax:674.3, unitMax:0.55, top:640, bottom:1077, cuts:[[60.4,2.6],[124,4.6]], thin:true});

// ---------- Heatmap panels ----------
const ROWS = 60;
function shade(rgb, v) {
  const a = Math.pow(Math.abs(v) / 9, 1.6);
  return `rgb(${rgb.map(c => Math.round(255 + (c - 255) * a)).join(',')})`;
}
const RED = [232,25,40], GREEN = [0,158,72];
function traceSignal(v) { return 0.03 + Math.pow(Math.abs(v) / 9, 2.5) * 0.6; }

function drawTrace(g, values, peaks, box, top, rowH, side, color) {
  const w = box[1] - box[0];
  const xAt = f => side === 'left' ? box[1] - f * w : box[0] + f * w;
  const pts = [];
  for (let r = 0; r < ROWS; r++) {
    pts.push([r, Math.min(traceSignal(values[r] || 0), 0.22)]);
  }
  peaks.forEach(p => {
    const base = Math.min(traceSignal(values[Math.round(p[0])] || 0), 0.22);
    pts.push([p[0] - 0.3, base], [p[0], p[1]], [p[0] + 0.3, base]);
  });
  pts.sort((a, b) => a[0] - b[0]);
  const line = mk('polyline', {points: pts.map(p => `${xAt(p[1]).toFixed(1)},${(top + p[0] * rowH).toFixed(1)}`).join(' '), fill:'none', stroke:color,'stroke-width':1.1}, g);
  
  
  peaks.forEach(p => {
    const m = mk('rect', {x:xAt(p[1]) - 4, y:top + p[0] * rowH - 3.5, width:8, height:7, fill:'#c4349a', stroke:'#e88ac8','stroke-width':0.6}, g);
    
    
  });
}

panelIds.forEach(id => {
  const data = panelSeries[id], fr = panelFrames[id];
  const top = fr.y[0], bottom = fr.y[1], rowH = (bottom - top) / ROWS;
  const g = mk('g', {}, svg);
  
  

  // three heatmaps
  [[data[0], 'red-heatmap'], [data[1], 'differential-heatmap'], [data[2], 'green-heatmap']].forEach((entry, k) => {
    const col = fr.f[k + 1];
    const mg = mk('g', {filter:'url(#rowSoft)'}, g);
    
    
    entry[0].forEach((v, r) => {
      if (!v) return;
      const rgb = k === 0 ? RED : k === 2 ? GREEN : (v < 0 ? RED : GREEN);
      const c = mk('rect', {x:col[0], y:(top + (r - 0.5) * rowH).toFixed(2), width:col[1] - col[0], height:(rowH + 0.2).toFixed(2), fill:shade(rgb, v), 'shape-rendering':'crispEdges'}, mg);
      
      
    });
    const cx = (col[0] + col[1]) / 2;
    const axis = mk('line', {x1:cx, x2:cx, y1:top, y2:bottom, stroke:'#8c8c8c','stroke-width':1}, g);
    
    
    const one = mk('text', {x:cx, y:bottom + 7, 'text-anchor':'middle','font-size':5.5, fill:'#777', style:'font-family:"Liberation Sans",sans-serif'}, g, '1');
    
    
  });

  // trace boxes
  [[fr.f[0], 'left', data[0], data[3], '#e85a62', 0], [fr.f[4], 'right', data[2], data[4], '#2aa64a', 2]].forEach(b => {
    const box = b[0], side = b[1];
    const frame = mk('path', {d:`M${box[0]} ${bottom}V${top}H${box[1]}V${bottom}`, fill:'none', stroke:'#8d8d8d','stroke-width':1}, g);
    
    
    const base = mk('line', {x1:box[0], x2:box[1], y1:bottom, y2:bottom, stroke:'#a8a8a8','stroke-width':1.8}, g);
    
    
    const cap = mk('text', {x:(box[0]+box[1])/2, y:top - 2, 'text-anchor':'middle','font-size':5, fill:'#666', style:'font-family:"Liberation Sans",sans-serif'}, g, 'Label');
    
    
    highlightRows[id].forEach(r => {
      const h = mk('line', {x1:box[0], x2:box[1], y1:top + r * rowH, y2:top + r * rowH, stroke:'#f7c8d6','stroke-width':1.4}, g);
      
      
    });
    drawTrace(g, b[2], b[3], box, top, rowH, side, b[4]);
    rowTickLabels.forEach((s, i) => {
      const yy = top + i * 6 * rowH;
      const tx = side === 'left' ? box[1] + 5 : box[0] - 5;
      const l = mk('text', {x:tx, y:yy + 2, 'text-anchor':'middle','font-size':5, fill:'#777', style:'font-family:"Liberation Sans",sans-serif'}, g, s);
      
      
    });
    const labels = scaleLabels[id];
    const a = side === 'left' ? labels[0] : labels[2], z = side === 'left' ? labels[1] : labels[3];
    const l1 = mk('text', {x:box[0], y:bottom + 7, 'font-size':5, fill:'#666', style:'font-family:"Liberation Sans",sans-serif'}, g, a);
    
    
    const l2 = mk('text', {x:box[1], y:bottom + 7, 'text-anchor':'end','font-size':5, fill:'#666', style:'font-family:"Liberation Sans",sans-serif'}, g, z);
    
    
  });

  const tag = mk('text', {x:fr.t[0], y:fr.t[1], 'font-size':28}, g, id);
  
  
});
</script>
</body>
</html>
